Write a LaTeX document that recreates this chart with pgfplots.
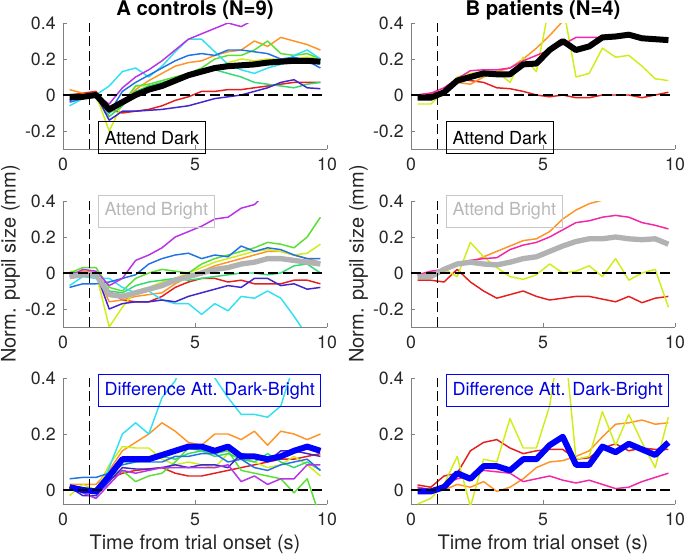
\documentclass[border=0pt]{standalone}
\usepackage{fontspec}
\setmainfont{TeX Gyre Heros}
\usepackage{pgfplots}
\usepackage{pgfplotstable}
\pgfplotsset{compat=1.18}

\definecolor{cR}{rgb}{0.90,0.12,0.12}
\definecolor{cO}{rgb}{1.00,0.58,0.15}
\definecolor{cY}{rgb}{0.82,0.93,0.10}
\definecolor{cG}{rgb}{0.35,0.88,0.20}
\definecolor{cH}{rgb}{0.20,0.85,0.45}
\definecolor{cC}{rgb}{0.20,0.88,0.95}
\definecolor{cB}{rgb}{0.12,0.45,0.90}
\definecolor{cD}{rgb}{0.25,0.15,0.80}
\definecolor{cP}{rgb}{0.72,0.20,0.90}
\definecolor{cK}{rgb}{0.95,0.15,0.65}
\definecolor{cGray}{rgb}{0.70,0.70,0.70}

% controls, attend dark
\pgfplotstableread{
t    sR     sO    sY    sG    sH    sC    sB    sD     sP    mean
0.25 0.00   0.03  0.00  0.00  0.00  -0.06 -0.04 -0.03  0.00  -0.01
0.75 0.01   0.01  0.00  0.00  0.00  -0.02 -0.02 -0.01  0.00  -0.01
1.25 0.02   0.00  0.00  0.00  0.00  0.00  0.00  0.00   0.00  0.00
1.75 -0.08  -0.10 -0.20 -0.10 -0.12 0.05  -0.10 -0.14  -0.05 -0.08
2.25 -0.10  -0.05 -0.05 -0.05 -0.06 0.13  0.02  -0.09  0.04  -0.04
2.75 -0.09  0.03  0.05  0.05  0.02  0.15  0.07  -0.09  0.10  0.00
3.25 -0.08  0.08  0.05  0.06  0.05  0.10  0.11  -0.085 0.14  0.03
3.75 -0.06  0.12  0.04  0.08  0.07  0.16  0.15  -0.08  0.19  0.05
4.25 -0.03  0.16  0.09  0.10  0.09  0.24  0.19  -0.07  0.25  0.08
4.75 -0.01  0.18  0.10  0.12  0.11  0.31  0.22  -0.06  0.31  0.11
5.25 0.02   0.19  0.12  0.15  0.13  0.31  0.23  -0.04  0.34  0.13
5.75 0.02   0.22  0.14  0.20  0.14  0.24  0.22  -0.02  0.37  0.15
6.25 0.03   0.24  0.18  0.22  0.12  0.17  0.25  -0.01  0.40  0.16
6.75 0.03   0.25  0.20  0.22  0.10  0.14  0.25  0.00   0.38  0.165
7.25 0.04   0.30  0.19  0.25  0.07  0.12  0.24  0.02   0.42  0.17
7.75 0.05   0.27  0.20  0.30  0.06  0.15  0.23  0.04   0.46  0.18
8.25 0.06   0.32  0.20  0.23  0.05  0.17  0.20  0.07   0.48  0.185
8.75 0.07   0.30  0.20  0.22  0.04  0.22  0.21  0.085  0.50  0.19
9.25 0.07   0.28  0.21  0.23  0.06  0.25  0.19  0.04   0.52  0.19
9.75 0.07   0.25  0.20  0.20  0.07  0.20  0.15  0.035  0.54  0.185
}\tabTL

% patients, attend dark
\pgfplotstableread{
t    sR     sO    sY    sK    mean
0.25 0.00   -0.01 -0.05 0.00  -0.015
0.75 0.01   0.00  -0.05 0.01  -0.015
1.25 0.02   0.02  0.02  0.04  0.015
1.75 0.09   0.07  0.10  0.09  0.08
2.25 0.08   0.06  0.12  0.135 0.10
2.75 0.07   0.10  0.13  0.14  0.12
3.25 0.04   0.13  0.13  0.14  0.115
3.75 0.035  0.15  0.07  0.15  0.115
4.25 0.02   0.20  0.21  0.19  0.17
4.75 0.00   0.26  0.13  0.22  0.175
5.25 -0.01  0.33  0.50  0.25  0.25
5.75 0.00   0.41  0.50  0.28  0.30
6.25 -0.015 0.46  0.10  0.32  0.25
6.75 -0.015 0.50  0.12  0.32  0.27
7.25 0.00   0.55  0.26  0.32  0.32
7.75 0.00   0.58  0.21  0.325 0.325
8.25 0.00   0.60  0.22  0.33  0.335
8.75 -0.015 0.62  0.16  0.315 0.315
9.25 0.00   0.64  0.09  0.31  0.31
9.75 0.015  0.66  0.08  0.305 0.305
}\tabTR

% controls, attend bright
\pgfplotstableread{
t    sR     sO    sY    sG    sH    sC    sB    sD    sP    mean
0.25 0.00   0.00  0.01  0.00  0.00  -0.07 -0.08 0.00  -0.02 -0.02
0.75 0.01   0.01  0.00  0.03  0.00  -0.02 -0.06 0.00  0.02  -0.01
1.25 0.00   0.00  0.00  0.03  0.00  -0.03 -0.06 0.00  0.01  -0.01
1.75 -0.10  -0.16 -0.30 -0.08 -0.10 -0.03 -0.05 -0.20 -0.07 -0.12
2.25 -0.15  -0.15 -0.19 -0.10 -0.11 -0.08 -0.03 -0.17 -0.03 -0.13
2.75 -0.16  -0.13 -0.10 -0.03 -0.07 -0.11 -0.01 -0.16 0.07  -0.11
3.25 -0.16  -0.12 -0.08 0.00  -0.05 -0.10 0.05  -0.16 0.10  -0.09
3.75 -0.13  -0.11 -0.05 0.02  -0.04 -0.15 0.08  -0.15 0.14  -0.07
4.25 -0.08  -0.06 -0.03 0.01  -0.03 -0.17 0.10  -0.16 0.20  -0.04
4.75 -0.05  -0.02 0.00  0.00  -0.04 -0.17 0.11  -0.13 0.23  -0.02
5.25 -0.03  0.01  0.03  0.05  -0.03 -0.23 0.08  -0.11 0.26  0.00
5.75 -0.03  0.04  0.06  0.08  -0.02 -0.17 0.10  -0.09 0.30  0.02
6.25 -0.05  0.06  0.08  0.10  -0.01 -0.21 0.09  -0.07 0.31  0.03
6.75 -0.04  0.08  0.10  0.12  0.00  -0.13 0.15  -0.08 0.36  0.05
7.25 -0.06  0.10  0.12  0.14  0.00  -0.14 0.12  -0.03 0.38  0.06
7.75 -0.06  0.12  0.13  0.17  -0.01 -0.10 0.14  -0.03 0.45  0.08
8.25 -0.06  0.12  0.12  0.16  0.00  -0.14 0.13  -0.07 0.48  0.08
8.75 -0.04  0.10  0.10  0.14  0.04  -0.24 0.10  -0.06 0.50  0.07
9.25 -0.04  0.08  0.11  0.20  0.05  -0.35 0.08  -0.09 0.52  0.06
9.75 -0.06  0.06  0.16  0.31  0.00  -0.40 0.08  -0.08 0.54  0.05
}\tabML

% patients, attend bright
\pgfplotstableread{
t    sR     sO    sY     sK    mean
0.25 -0.04  -0.01 0.00   -0.01 -0.02
0.75 -0.04  0.00  -0.01  0.01  -0.02
1.25 -0.05  0.02  0.02   0.02  0.02
1.75 0.02   0.05  -0.02  0.05  0.05
2.25 -0.05  0.06  0.17   0.07  0.06
2.75 -0.10  0.09  0.09   0.08  0.05
3.25 -0.14  0.12  0.03   0.085 0.045
3.75 -0.12  0.15  -0.02  0.13  0.06
4.25 -0.10  0.18  -0.035 0.155 0.08
4.75 -0.13  0.19  -0.01  0.17  0.09
5.25 -0.15  0.23  0.05   0.20  0.12
5.75 -0.14  0.30  0.00   0.24  0.15
6.25 -0.13  0.35  0.01   0.28  0.175
6.75 -0.13  0.385 0.04   0.29  0.19
7.25 -0.145 0.405 -0.02  0.31  0.19
7.75 -0.16  0.45  0.08   0.32  0.20
8.25 -0.13  0.48  -0.04  0.31  0.19
8.75 -0.165 0.50  0.00   0.28  0.185
9.25 -0.14  0.52  0.02   0.265 0.19
9.75 -0.13  0.54  -0.19  0.245 0.16
}\tabMR

% controls, difference
\pgfplotstableread{
t    sR    sO    sY    sG    sH    sC    sB    sD    sP    mean
0.25 0.01  0.02  -0.02 0.00  0.01  0.01  0.04  0.01  0.01  0.01
0.75 0.00  0.02  0.02  0.00  0.00  -0.01 0.045 -0.02 -0.01 0.00
1.25 0.00  0.02  0.00  0.00  -0.01 -0.03 0.045 -0.02 -0.03 -0.005
1.75 0.04  0.07  0.09  0.05  0.04  0.08  0.06  0.03  0.02  0.05
2.25 0.06  0.14  0.155 0.07  0.10  0.20  0.09  0.08  0.07  0.11
2.75 0.07  0.17  0.15  0.03  0.10  0.24  0.10  0.075 0.06  0.11
3.25 0.075 0.20  0.15  0.05  0.11  0.20  0.10  0.075 0.07  0.11
3.75 0.08  0.24  0.11  0.06  0.12  0.33  0.10  0.08  0.08  0.125
4.25 0.06  0.21  0.09  0.10  0.11  0.39  0.12  0.09  0.08  0.14
4.75 0.05  0.17  0.10  0.15  0.13  0.50  0.12  0.08  0.08  0.155
5.25 0.05  0.16  0.09  0.14  0.14  0.50  0.13  0.09  0.08  0.155
5.75 0.06  0.20  0.08  0.13  0.12  0.40  0.13  0.09  0.08  0.14
6.25 0.07  0.20  0.13  0.14  0.13  0.33  0.10  0.08  0.09  0.155
6.75 0.08  0.18  0.12  0.07  0.11  0.27  0.11  0.13  0.03  0.12
7.25 0.09  0.21  0.10  0.06  0.10  0.27  0.08  0.12  0.05  0.12
7.75 0.10  0.16  0.08  0.05  0.13  0.26  0.07  0.10  0.02  0.11
8.25 0.11  0.21  0.09  0.04  0.10  0.30  0.09  0.14  0.04  0.12
8.75 0.11  0.20  0.12  -0.01 0.08  0.45  0.10  0.14  0.04  0.14
9.25 0.12  0.18  0.09  0.04  0.10  0.50  0.11  0.13  0.09  0.155
9.75 0.13  0.20  0.05  -0.10 0.07  0.50  0.07  0.12  0.09  0.14
}\tabBL

% patients, difference
\pgfplotstableread{
t    sR    sO     sY    sK    mean
0.25 0.018 0.01   -0.05 0.01  -0.005
0.75 0.01  0.00   -0.03 0.00  -0.005
1.25 0.05  0.00   0.02  0.02  0.01
1.75 0.06  0.02   0.12  0.04  0.06
2.25 0.14  0.01   -0.06 0.05  0.04
2.75 0.17  0.03   0.11  0.07  0.085
3.25 0.18  -0.005 0.10  0.065 0.085
3.75 0.15  0.01   0.255 0.06  0.07
4.25 0.13  0.04   0.15  0.03  0.11
4.75 0.14  0.08   0.15  0.04  0.11
5.25 0.145 0.10   0.30  0.05  0.16
5.75 0.145 0.105  0.60  0.035 0.19
6.25 0.11  0.12   0.11  0.025 0.09
6.75 0.115 0.14   0.12  0.035 0.09
7.25 0.15  0.19   0.28  0.02  0.155
7.75 0.165 0.235  0.16  0.005 0.135
8.25 0.14  0.24   0.27  0.01  0.165
8.75 0.15  0.25   0.17  0.03  0.145
9.25 0.145 0.235  0.08  0.045 0.125
9.75 0.145 0.24   0.26  0.06  0.17
}\tabBR

\pgfplotsset{
  panel/.style={
    width=198pt, height=94.5pt, scale only axis,
    anchor=north west,
    xmin=0, xmax=10, ymin=-0.3, ymax=0.4,
    axis x line*=bottom, axis y line*=left,
    axis line style={-, black!50, line width=0.6pt},
    xtick={0,5,10}, ytick={-0.2,0,0.2,0.4},
    tick align=inside, major tick length=3pt,
    tick style={black!50, line width=0.6pt},
    /pgf/number format/assume math mode=true,
    /pgf/number format/fixed,
    ticklabel style={font=\fontsize{13.3}{15}\selectfont, text=black!85},
    xticklabel style={yshift=-3pt},
    yticklabel style={xshift=-2pt},
    label style={font=\fontsize{15}{17}\selectfont, text=black!85},
    ylabel style={yshift=-3pt},
    title style={font=\bfseries\fontsize{15.2}{17}\selectfont, yshift=-7pt},
    clip mode=individual,
  },
  subj/.style={line width=1.1pt, line join=round},
  avg/.style={line width=4.5pt, line join=round},
  zero/.style={black, line width=1.2pt, dash pattern=on 7.5pt off 3.5pt},
}
\tikzset{
  tag/.style={anchor=north west, line width=0.6pt, inner xsep=4.5pt,
    inner ysep=0pt, minimum height=24pt, font=\fontsize{13.5}{15}\selectfont},
}

\newcommand{\ctrl}[1]{%
  \addplot[cR, subj] table[x=t, y=sR] {#1};
  \addplot[cO, subj] table[x=t, y=sO] {#1};
  \addplot[cY, subj] table[x=t, y=sY] {#1};
  \addplot[cG, subj] table[x=t, y=sG] {#1};
  \addplot[cH, subj] table[x=t, y=sH] {#1};
  \addplot[cC, subj] table[x=t, y=sC] {#1};
  \addplot[cB, subj] table[x=t, y=sB] {#1};
  \addplot[cD, subj] table[x=t, y=sD] {#1};
  \addplot[cP, subj] table[x=t, y=sP] {#1};
}
\newcommand{\pat}[1]{%
  \addplot[cR, subj] table[x=t, y=sR] {#1};
  \addplot[cO, subj] table[x=t, y=sO] {#1};
  \addplot[cY, subj] table[x=t, y=sY] {#1};
  \addplot[cK, subj] table[x=t, y=sK] {#1};
}

\begin{document}
\begin{tikzpicture}
% row 1
\begin{axis}[panel, at={(47.25pt,-17.25pt)}, title={A controls (N=9)}]
  \ctrl{\tabTL}
  \addplot[black, avg] table[x=t, y=mean] {\tabTL};
  \addplot[zero] coordinates {(0,0) (10,0)};
  \addplot[zero] coordinates {(1,-0.3) (1,0.4)};
  \node[tag, draw=black, text=black] at (rel axis cs:0.133,0.22) {Attend Dark};
\end{axis}
\begin{axis}[panel, at={(308.25pt,-17.25pt)}, title={B patients (N=4)}]
  \pat{\tabTR}
  \addplot[black, avg] table[x=t, y=mean] {\tabTR};
  \addplot[zero] coordinates {(0,0) (10,0)};
  \addplot[zero] coordinates {(1,-0.3) (1,0.4)};
  \node[tag, draw=black, text=black] at (rel axis cs:0.133,0.22) {Attend Dark};
\end{axis}
% row 2
\begin{axis}[panel, at={(47.25pt,-150.75pt)}, ylabel={Norm. pupil size (mm)}]
  \ctrl{\tabML}
  \addplot[cGray, avg, line width=4pt] table[x=t, y=mean] {\tabML};
  \addplot[zero] coordinates {(0,0) (10,0)};
  \addplot[zero] coordinates {(1,-0.3) (1,0.4)};
  \node[tag, draw=black!22, text=black!28] at (rel axis cs:0.133,1.05) {Attend Bright};
\end{axis}
\begin{axis}[panel, at={(308.25pt,-150.75pt)}, ylabel={Norm. pupil size (mm)}]
  \pat{\tabMR}
  \addplot[cGray, avg, line width=4pt] table[x=t, y=mean] {\tabMR};
  \addplot[zero] coordinates {(0,0) (10,0)};
  \addplot[zero] coordinates {(1,-0.3) (1,0.4)};
  \node[tag, draw=black!22, text=black!28] at (rel axis cs:0.133,1.05) {Attend Bright};
\end{axis}
% row 3
\begin{axis}[panel, at={(47.25pt,-283.5pt)}, ymin=-0.05, ytick={0,0.2,0.4},
    xlabel={Time from trial onset (s)}]
  \ctrl{\tabBL}
  \addplot[blue, avg] table[x=t, y=mean] {\tabBL};
  \addplot[zero] coordinates {(0,0) (10,0)};
  \addplot[zero] coordinates {(1,-0.05) (1,0.4)};
  \node[tag, draw=blue, text=blue!90!black] at (rel axis cs:0.133,1.03) {Difference Att. Dark-Bright};
\end{axis}
\begin{axis}[panel, at={(308.25pt,-283.5pt)}, ymin=-0.05, ytick={0,0.2,0.4},
    xlabel={Time from trial onset (s)}]
  \pat{\tabBR}
  \addplot[blue, avg] table[x=t, y=mean] {\tabBR};
  \addplot[zero] coordinates {(0,0) (10,0)};
  \addplot[zero] coordinates {(1,-0.05) (1,0.4)};
  \node[tag, draw=blue, text=blue!90!black] at (rel axis cs:0.133,1.03) {Difference Att. Dark-Bright};
\end{axis}
\pgfresetboundingbox
\path[use as bounding box] (0,0) rectangle (513.75pt,-420pt);
\end{tikzpicture}
\end{document}
